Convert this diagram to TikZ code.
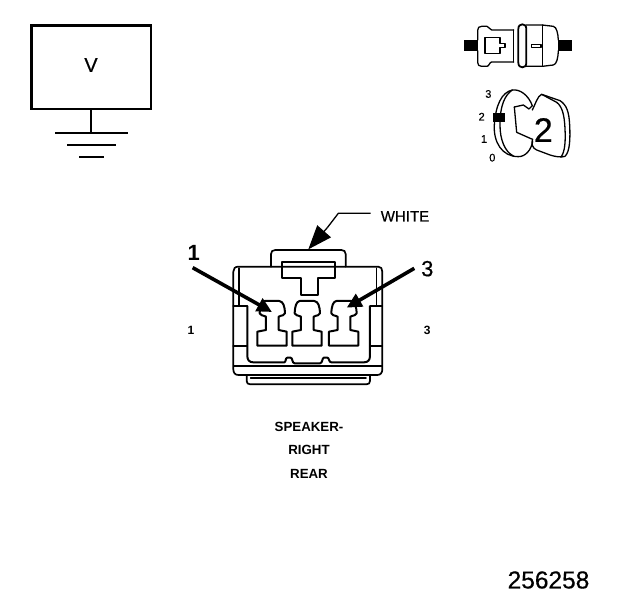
\documentclass[tikz,border=0pt]{standalone}
\usepackage{fontspec}
\setmainfont{Liberation Sans}
\usetikzlibrary{arrows.meta}
\tikzset{
  thinl/.style={line width=1.3pt,line join=round,line cap=round},
  medl/.style={line width=1.7pt,line join=round,line cap=round},
  groundl/.style={line width=2pt},
  pointer/.style={line width=3.6pt,-{Stealth[inset=0pt,length=15pt,width=14pt]}},
  leaderl/.style={line width=1.3pt},
  txt/.style={inner sep=0pt,font=\fontsize{#1}{#1}\selectfont\addfontfeature{FakeBold=0.5}},
  btxt/.style={inner sep=0pt,font=\fontsize{#1}{#1}\selectfont\bfseries},
  terminalshape/.pic={
    \draw[line width=2pt,line join=round] (-22,303) -- (22,303) .. controls (34,305) and (38,318) .. (39,340)
      .. controls (38,347) and (30,345) .. (20,350) -- (20,390) -- (44,395)
      -- (44,437) -- (-44,437) -- (-44,395) -- (-18,390)
      -- (-18,350) .. controls (-28,345) and (-36,347) .. (-37,340) .. controls (-36,318) and (-32,305) .. (-22,303) -- cycle;
  }
}
\begin{document}
\begin{tikzpicture}[x=1pt,y=-1pt]
\useasboundingbox (0,0) rectangle (624,600);
% V box
\node[draw,line width=2.4pt,outer sep=0pt,minimum width=119.5pt,minimum height=83.5pt,inner sep=0pt,anchor=north west] (vbox) at (31.5,25.5) {};
\node[txt=20] (vlabel) at (91,65) {V};
\coordinate (g1) at (91,132.5);
\coordinate (g1l) at (55,132.5); \coordinate (g1r) at (128,132.5);
\coordinate (g2l) at (67,145); \coordinate (g2r) at (116,145);
\coordinate (g3l) at (79,157); \coordinate (g3r) at (104,157);
\draw[line width=2.6pt] (vbox.south -| g1) -- (g1);
\draw[groundl] (g1l) -- (g1r);
\draw[groundl] (g2l) -- (g2r);
\draw[groundl] (g3l) -- (g3r);

% main connector, in zoomed coordinates
\begin{scope}[shift={(170,200)},x=0.3333pt,y=-0.3333pt]
  % tab
  \draw[medl] (303,200) -- (303,162) .. controls (303,154) and (308,150) .. (316,150) -- (514,150) .. controls (522,150) and (527,154) .. (527,162) -- (527,200);
  % outer body
  \draw[medl] (205,200) -- (625,200) .. controls (633,200) and (637,206) .. (637,215) -- (637,508) .. controls (637,518) and (632,525) .. (622,525)
     -- (205,525) .. controls (195,525) and (190,518) .. (190,508) -- (190,215) .. controls (190,206) and (195,200) .. (205,200);
  \draw[medl] (207,205) -- (207,316);
  \draw[medl] (620,205) -- (620,316);
  \draw[medl] (190,318) -- (232,318);
  \draw[medl] (600,318) -- (637,318);
  \draw[medl] (190,437) -- (232,437);
  \draw[medl] (600,437) -- (637,437);
  % cavity
  \draw[line width=2pt,line join=round] (232,318) -- (232,468) .. controls (232,480) and (238,487) .. (250,487)
     -- (343,487) .. controls (348,487) and (346,473) .. (352,473) -- (362,473) .. controls (368,473) and (366,490) .. (374,490)
     -- (450,490) .. controls (458,490) and (456,473) .. (462,473) -- (472,473) .. controls (478,473) and (476,487) .. (484,487)
     -- (582,487) .. controls (594,487) and (600,480) .. (600,468) -- (600,318);
  \draw[line width=2pt] (190,497) -- (637,497);
  % latch
  \draw[medl] (335,185) -- (495,185) -- (495,235) -- (445,235) -- (445,285) -- (392,285) -- (392,235) -- (335,235) -- cycle;
  % terminals
  \pic at (306,0) {terminalshape};
  \pic at (411,0) {terminalshape};
  \pic at (521,0) {terminalshape};
  % bottom lip
  \draw[medl] (230,525) -- (230,543) .. controls (230,550) and (234,553) .. (241,553) -- (589,553) .. controls (596,553) and (600,550) .. (600,543) -- (600,525);
  \draw[medl] (242,535) -- (588,535);
  % arrows
  \coordinate (a1s) at (68,203); \coordinate (a1t) at (306,336);
  \coordinate (a3s) at (733,205); \coordinate (a3t) at (530,323);
  \coordinate (wa) at (602,40); \coordinate (wb) at (505,40); \coordinate (wc) at (472,83); \coordinate (wt) at (415,148);
  \draw[pointer] (a1s) -- (a1t);
  \draw[pointer] (a3s) -- (a3t);
  \draw[leaderl] (wa) -- (wb) -- (wc);
  \draw[line width=1.3pt,-{Stealth[inset=0pt,length=24pt,width=18pt]}] (wc) -- (wt);
  \node[txt=15] (white) at (705,49) {WHITE};
  \node[btxt=22] (n1) at (71,160) {1};
  \node[txt=22] (n3) at (772,206) {3};
  \node[btxt=12] (s1) at (63,391) {1};
  \node[btxt=12] (s3) at (772,391) {3};
\end{scope}

% captions
\node[btxt=13.3] (cap1) at (309,427) {SPEAKER-};
\node[btxt=13.3] (cap2) at (309,450) {RIGHT};
\node[btxt=13.3] (cap3) at (309,474) {REAR};
\node[txt=24.5] (num) at (548.5,580) {256258};

% icons
\begin{scope}[shift={(455,15)},x=0.3333pt,y=-0.3333pt]
  \fill (28,75) rectangle (68,107);
  \fill (310,75) rectangle (350,107);
  \draw[thinl] (68,75) -- (68,46) .. controls (68,38) and (72,34) .. (80,34) -- (96,34) .. controls (102,34) and (104,45) .. (110,45) -- (176,45);
  \draw[thinl] (68,107) -- (68,142) .. controls (68,150) and (72,154) .. (80,154) -- (96,154) .. controls (102,154) and (104,141) .. (110,141) -- (176,141);
  \draw[thinl] (176,45) -- (176,141);
  \draw[thinl] (90,68) -- (135,68) -- (135,86) -- (150,86) -- (150,97) -- (135,97) -- (135,115) -- (90,115) -- cycle;
  \draw[line width=1.8pt] (190,42) .. controls (190,32) and (196,28) .. (202,28) .. controls (209,28) and (214,32) .. (214,42) -- (214,143) .. controls (214,153) and (209,157) .. (202,157) .. controls (196,157) and (190,153) .. (190,143) -- cycle;
  \draw[thinl] (214,30) -- (262,30) -- (295,34) .. controls (305,36) and (309,55) .. (310,75);
  \draw[thinl] (214,154) -- (262,154) -- (295,150) .. controls (305,148) and (309,130) .. (310,107);
  \draw[thinl] (262,30) -- (262,154);
  \draw[thinl] (230,88) rectangle (258,97);
  % key
  \fill (115,293) rectangle (150,320);
  \draw[thinl] (232,272) .. controls (220,240) and (195,222) .. (172,225) .. controls (140,232) and (122,270) .. (118,330) .. controls (115,380) and (140,425) .. (190,425) .. controls (212,425) and (228,405) .. (233,380);
  \draw[thinl] (172,225) .. controls (150,240) and (135,270) .. (135,330) .. controls (135,375) and (150,410) .. (175,423);
  \draw[thinl] (178,276) -- (185,352) -- (230,372);
  \draw[thinl] (178,276) -- (205,270) -- (222,282) -- (232,272);
  \draw[thinl] (232,285) .. controls (240,270) and (248,242) .. (260,238) -- (315,257) .. controls (335,270) and (342,290) .. (344,330) .. controls (346,370) and (345,410) .. (330,424) .. controls (320,428) and (300,425) .. (285,420) -- (245,405) .. controls (232,400) and (228,385) .. (233,372);
  \draw[thinl] (260,238) -- (305,262) .. controls (322,275) and (328,300) .. (330,340) .. controls (332,380) and (330,410) .. (318,426);
  \node[txt=34] (big2) at (265,345) {2};
  \node[txt=11] (k3) at (100,237) {3};
  \node[txt=11] (k2) at (80,305) {2};
  \node[txt=11] (k1) at (87,372) {1};
  \node[txt=11] (k0) at (112,428) {0};
\end{scope}
\end{tikzpicture}
\end{document}
